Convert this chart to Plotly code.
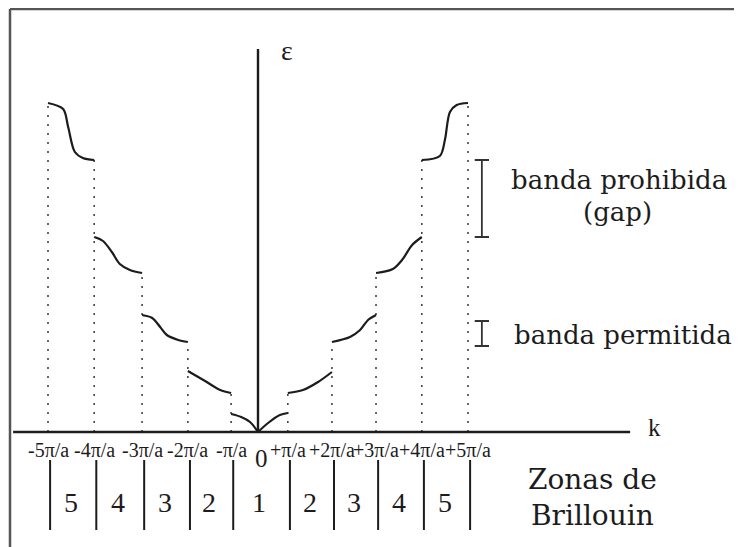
import plotly.graph_objects as go

# ---- data (k in units of pi/a as drawn, energy in arbitrary units) ----
zone_edges = [-5.0, -3.9, -2.76, -1.67, -0.64, 0.0, 0.71, 1.76, 2.81, 3.9, 5.0]
edge_labels = ["-5π/a", "-4π/a", "-3π/a", "-2π/a", "-π/a", "0",
               "+π/a", "+2π/a", "+3π/a", "+4π/a", "+5π/a"]
zone_numbers = ["5", "4", "3", "2", "1", "2", "3", "4", "5"]

z1L_k = [-0.64, -0.40, -0.19, 0.0]
z1L_E = [1.8, 1.5, 1.0, 0.0]
z1R_k = [0.0, 0.24, 0.52, 0.71]
z1R_E = [0.0, 0.9, 1.7, 1.9]

z2L_k = [-1.67, -1.26, -0.90, -0.64]
z2L_E = [6.1, 5.1, 4.2, 3.9]
z2R_k = [0.71, 1.07, 1.43, 1.76]
z2R_E = [3.9, 4.2, 5.0, 6.0]

z3L_k = [-2.76, -2.52, -2.33, -2.17, -1.90, -1.67]
z3L_E = [11.7, 11.4, 10.5, 9.7, 9.2, 9.0]
z3R_k = [1.76, 2.19, 2.43, 2.62, 2.81]
z3R_E = [9.0, 9.5, 10.2, 11.2, 11.7]

z4L_k = [-3.9, -3.69, -3.48, -3.29, -3.05, -2.76]
z4L_E = [19.5, 19.1, 18.0, 16.8, 16.2, 15.9]
z4R_k = [2.81, 3.21, 3.43, 3.67, 3.9]
z4R_E = [15.9, 16.3, 17.2, 18.7, 19.5]

z5L_k = [-5.0, -4.64, -4.52, -4.36, -4.17, -3.9]
z5L_E = [32.9, 32.3, 30.5, 28.0, 27.4, 27.2]
z5R_k = [3.9, 4.33, 4.45, 4.57, 4.73, 5.0]
z5R_E = [27.2, 27.6, 29.2, 32.0, 32.7, 32.9]

allowed_marker_E = [8.6, 11.1]

bands = [(z1L_k, z1L_E), (z1R_k, z1R_E), (z2L_k, z2L_E), (z2R_k, z2R_E),
         (z3L_k, z3L_E), (z3R_k, z3R_E), (z4L_k, z4L_E), (z4R_k, z4R_E),
         (z5L_k, z5L_E), (z5R_k, z5R_E)]

INK = "#1c1c1c"
fig = go.Figure()

# dotted guide lines at zone boundaries up to the highest band end there
tops = {}
for ks, Es in bands:
    for k, E in ((ks[0], Es[0]), (ks[-1], Es[-1])):
        key = round(k, 2)
        if key != 0.0:
            tops[key] = max(tops.get(key, 0), E)
for k, top in tops.items():
    fig.add_trace(go.Scatter(x=[k, k], y=[0, top], mode="lines",
                             line=dict(color="#444", width=1.6, dash="2px,7px"),
                             hoverinfo="skip"))

# bands
for ks, Es in bands:
    fig.add_trace(go.Scatter(x=ks, y=Es, mode="lines",
                             line=dict(color=INK, width=2.2, shape="spline", smoothing=0.9),
                             hoverinfo="skip"))

shapes = []
# axes
shapes.append(dict(type="line", xref="x", yref="y", x0=-5.83, x1=8.86, y0=0, y1=0,
                   line=dict(color=INK, width=2.4)))
shapes.append(dict(type="line", xref="x", yref="y", x0=0, x1=0, y0=0, y1=38.3,
                   line=dict(color=INK, width=2.4)))

# zone separators below axis (every boundary except k = 0)
bounds = [k for k in zone_edges if k != 0.0]
for k in bounds:
    shapes.append(dict(type="line", xref="x", yref="y", x0=k + 0.05, x1=k + 0.05,
                       y0=-2.8, y1=-9.8, line=dict(color=INK, width=2)))

# gap marker (between band 4 top and band 5 bottom) and allowed-band marker
gap_lo = z4R_E[-1]
gap_hi = z5R_E[0]
mx, cap = 5.33, 0.17
for lo, hi in ((gap_lo, gap_hi), (allowed_marker_E[0], allowed_marker_E[1])):
    shapes.append(dict(type="line", xref="x", yref="y", x0=mx, x1=mx, y0=lo, y1=hi,
                       line=dict(color="#333", width=1.8)))
    for yy in (lo, hi):
        shapes.append(dict(type="line", xref="x", yref="y", x0=mx - cap, x1=mx + cap,
                           y0=yy, y1=yy, line=dict(color="#333", width=2)))

# frame (scan border)
W, H = 734, 539   # page body has an 8px margin
bx = 2 / W
by = 1 - 1 / H
shapes.append(dict(type="line", xref="paper", yref="paper", x0=bx, x1=bx,
                   y0=0, y1=by, line=dict(color="#555", width=2.5)))
shapes.append(dict(type="line", xref="paper", yref="paper", x0=bx, x1=1,
                   y0=by, y1=by, line=dict(color="#555", width=2.5)))

ann = []
serif = "Liberation Serif"
for k, lab in zip(zone_edges, edge_labels):
    if lab == "0":
        ann.append(dict(x=k, y=-2.6, text=lab, showarrow=False, xshift=3,
                        font=dict(family=serif, size=25, color=INK)))
    else:
        ann.append(dict(x=k, y=-1.8, text=lab, showarrow=False,
                        font=dict(family=serif, size=20, color=INK)))

for i, num in enumerate(zone_numbers):
    mid = (bounds[i] + bounds[i + 1]) / 2
    ann.append(dict(x=mid, y=-7.0, text=num, showarrow=False,
                    font=dict(family=serif, size=28, color=INK)))

ann.append(dict(x=0.69, y=38.2, text="ε", showarrow=False,
                font=dict(family=serif, size=28, color=INK)))
ann.append(dict(x=9.45, y=0.5, text="k", showarrow=False,
                font=dict(family=serif, size=25, color=INK)))
ann.append(dict(x=5.98, y=25.2, text="banda prohibida", showarrow=False, xanchor="left",
                font=dict(family="DejaVu Serif", size=26, color=INK)))
ann.append(dict(x=8.57, y=22.0, text="(gap)", showarrow=False,
                font=dict(family="DejaVu Serif", size=26, color=INK)))
ann.append(dict(x=6.05, y=9.7, text="banda permitida", showarrow=False, xanchor="left",
                font=dict(family="DejaVu Serif", size=26, color=INK)))
ann.append(dict(x=7.96, y=-6.55, text="Zonas de<br>Brillouin", showarrow=False,
                align="center",
                font=dict(family="DejaVu Serif", size=28, color=INK)))

fig.update_layout(
    width=W, height=H,
    margin=dict(l=0, r=0, t=0, b=0),
    paper_bgcolor="white", plot_bgcolor="white",
    showlegend=False,
    xaxis=dict(range=[(8 - 258) / 42, (742 - 258) / 42], visible=False, fixedrange=True),
    yaxis=dict(range=[-11.5, (432 - 8) / 10], visible=False, fixedrange=True),
    shapes=shapes, annotations=ann,
)

fig.write_html("out.html")
